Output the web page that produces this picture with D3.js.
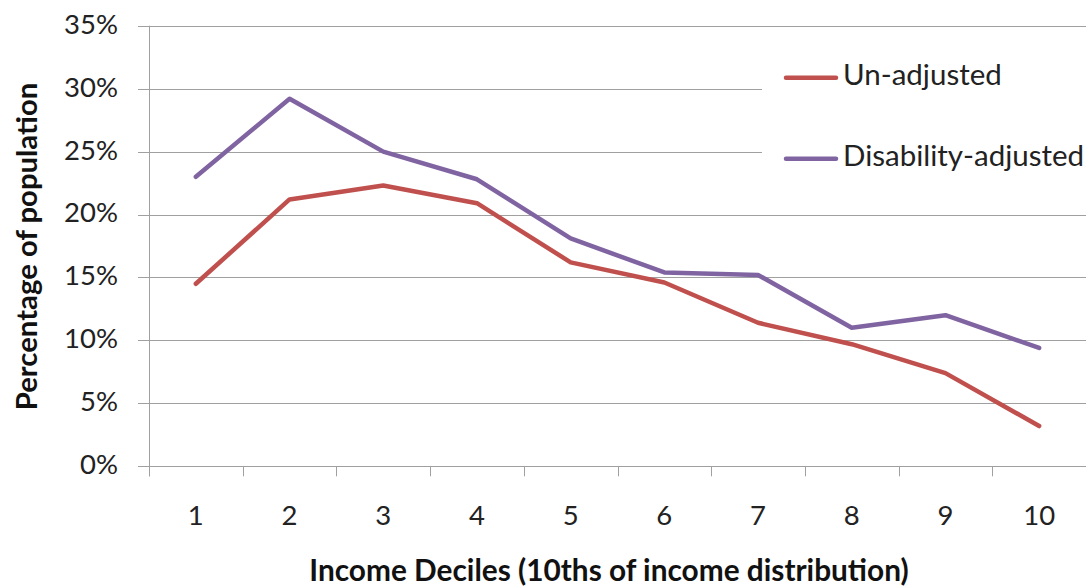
<!DOCTYPE html>
<html>
<head>
<meta charset="utf-8">
<script src="https://cdn.jsdelivr.net/npm/d3@7"></script>
<style>
  html, body { margin: 0; padding: 0; background: #fff; }
  svg { display: block; font-family: Lato, "Open Sans", sans-serif; }
</style>
</head>
<body>
<svg id="chart" width="1086" height="586"></svg>
<script>
const categories = ["1","2","3","4","5","6","7","8","9","10"];
const unAdjusted = [14.5, 21.2, 22.3, 20.9, 16.2, 14.6, 11.4, 9.7, 7.4, 3.2];
const disabilityAdjusted = [23.0, 29.2, 25.0, 22.8, 18.1, 15.4, 15.2, 11.0, 12.0, 9.4];
const yTicks = [0, 5, 10, 15, 20, 25, 30, 35];
const seriesNames = ["Un-adjusted", "Disability-adjusted"];
const seriesColors = ["#C0504D", "#8064A2"];
const xTitle = "Income Deciles (10ths of income distribution)";
const yTitle = "Percentage of population";

const svg = d3.select("#chart");
const pLeft = 149, pRight = 1086, pTop = 25.7, pBottom = 466.3;

const x = d3.scaleBand().domain(categories).range([pLeft, pRight]).padding(0);
const y = d3.scaleLinear().domain([0, 35]).range([pBottom, pTop]);

// gridlines
svg.append("g").selectAll("line").data(yTicks).join("line")
  .attr("x1", pLeft - 11).attr("x2", pRight)
  .attr("y1", d => Math.round(y(d)) + 0.5).attr("y2", d => Math.round(y(d)) + 0.5)
  .attr("stroke", "#a0a0a0").attr("stroke-width", 1);

// y axis line
svg.append("line")
  .attr("x1", pLeft + 0.5).attr("x2", pLeft + 0.5)
  .attr("y1", pTop).attr("y2", pBottom + 10)
  .attr("stroke", "#a0a0a0");

// x axis ticks
const xTickPos = categories.map(c => x(c)).concat([x(categories[categories.length-1]) + x.bandwidth()]);
svg.append("g").selectAll("line").data(xTickPos).join("line")
  .attr("x1", d => Math.round(d) + 0.5).attr("x2", d => Math.round(d) + 0.5)
  .attr("y1", pBottom).attr("y2", pBottom + 10)
  .attr("stroke", "#a0a0a0");

// y tick labels
svg.append("g").selectAll("text").data(yTicks).join("text")
  .attr("x", 118).attr("y", d => y(d) + 1)
  .attr("text-anchor", "end").attr("dominant-baseline", "middle")
  .attr("font-size", 27.5).attr("fill", "#222")
  .text(d => d + "%");

// x tick labels
svg.append("g").selectAll("text").data(categories).join("text")
  .attr("x", d => x(d) + x.bandwidth() / 2).attr("y", 518)
  .attr("text-anchor", "middle").attr("dominant-baseline", "middle")
  .attr("font-size", 27.5).attr("fill", "#222")
  .text(d => d);

// legend background (covers gridlines)
svg.append("rect").attr("x", 762).attr("y", 45).attr("width", pRight - 762).attr("height", 150).attr("fill", "#fff");

// lines
const series = [unAdjusted, disabilityAdjusted];
const line = d3.line()
  .x((d, i) => x(categories[i]) + x.bandwidth() / 2)
  .y(d => y(d));
series.forEach((s, k) => {
  svg.append("path").datum(s)
    .attr("d", line)
    .attr("fill", "none")
    .attr("stroke", seriesColors[k])
    .attr("stroke-width", 4.5)
    .attr("stroke-linejoin", "round")
    .attr("stroke-linecap", "round");
});

// legend
const legendY = [77.7, 158.7];
seriesNames.forEach((name, k) => {
  svg.append("line")
    .attr("x1", 786).attr("x2", 836)
    .attr("y1", legendY[k]).attr("y2", legendY[k])
    .attr("stroke", seriesColors[k]).attr("stroke-width", 4.5).attr("stroke-linecap", "round");
  svg.append("text")
    .attr("x", 843).attr("y", legendY[k])
    .attr("dominant-baseline", "middle")
    .attr("font-size", 29.5).attr("fill", "#222")
    .text(name);
});

// axis titles
svg.append("text")
  .attr("x", 609).attr("y", 581)
  .attr("text-anchor", "middle")
  .attr("font-size", 29.8).attr("font-weight", "bold").attr("fill", "#111")
  .text(xTitle);

svg.append("text")
  .attr("transform", `translate(37, 246.5) rotate(-90)`)
  .attr("text-anchor", "middle")
  .attr("font-size", 29.3).attr("font-weight", "bold").attr("fill", "#111")
  .text(yTitle);
</script>
</body>
</html>
